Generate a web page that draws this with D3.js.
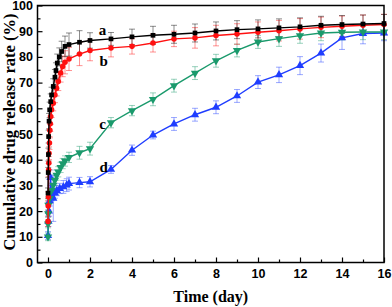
<!DOCTYPE html>
<html>
<head>
<meta charset="utf-8">
<script src="https://cdn.jsdelivr.net/npm/d3@7"></script>
<style>
  body { margin: 0; background: #fff; }
  .tick text { font-family: "Liberation Sans", Arial, sans-serif; font-weight: bold; font-size: 12.5px; }
  .ttl { font-family: "Liberation Serif", "Times New Roman", serif; font-weight: bold; }
</style>
</head>
<body>
<svg id="chart" width="392" height="307"></svg>
<script>
// release data
var timeA = [0, 0.01, 0.02, 0.03, 0.05, 0.08, 0.13, 0.17, 0.25, 0.33, 0.38, 0.44, 0.54, 0.65, 0.81, 1, 1.5, 2, 3, 4, 5, 6, 7, 8, 9, 10, 11, 12, 13, 14, 15, 16];
var valA  = [27, 35, 42, 49, 55, 59.4, 62.6, 65.2, 68.5, 72.1, 74.7, 77.6, 80, 82.1, 84.1, 84.8, 85.7, 86.4, 87, 87.8, 88.4, 88.8, 89.3, 90.1, 90.6, 90.9, 91.3, 91.7, 92.3, 92.6, 92.8, 93];
var errA  = [2, 2, 2.5, 2.5, 3, 3, 3, 3, 3, 3, 3, 3.5, 3.5, 4, 4, 4.5, 4.5, 3, 2.5, 3, 3.5, 3.5, 3.5, 3.5, 3.5, 3.5, 3.5, 3.5, 3.5, 3.5, 3.5, 3.5];

var timeB = [0, 0.01, 0.02, 0.03, 0.04, 0.05, 0.07, 0.09, 0.11, 0.13, 0.17, 0.25, 0.33, 0.41, 0.49, 0.6, 0.7, 0.81, 1, 1.5, 2, 3, 4, 5, 6, 7, 8, 9, 10, 11, 12, 13, 14, 15, 16];
var valB  = [16, 22, 25.5, 36, 38.7, 42.5, 46.5, 51.5, 54, 56.8, 59.4, 62, 65.2, 67.8, 70.4, 73.7, 76.3, 77.9, 79.2, 81.1, 82.5, 83.5, 84.1, 85.4, 87, 87.4, 88.3, 88.9, 89.6, 90.2, 90.9, 91.5, 91.9, 92.3, 92.6];
var errB  = [2, 2, 2, 2.5, 2.5, 2.5, 2.5, 3, 3, 3, 3, 3, 3, 3, 3.5, 3.5, 4, 4.5, 4.5, 4.5, 4, 3.5, 3, 3.5, 3, 4, 4, 4, 4, 4, 4, 4, 4, 4, 4];

var timeC = [0, 0.005, 0.01, 0.02, 0.08, 0.17, 0.25, 0.33, 0.41, 0.49, 0.6, 0.7, 0.81, 1, 1.5, 2, 3, 4, 5, 6, 7, 8, 9, 10, 11, 12, 13, 14, 15, 16];
var valC  = [10, 15, 19, 22.3, 24.9, 28.1, 30.1, 32, 34, 35.3, 37, 38.5, 39.5, 40.9, 42.7, 44.3, 54.4, 59.1, 63.5, 68.8, 73.7, 78.5, 82.5, 85.8, 87.1, 88.3, 89.3, 89.6, 89.7, 89.7];
var errC  = [1.5, 1.5, 1.5, 2, 2, 2, 2, 2, 2, 2, 2, 2, 2, 2, 2.5, 2.5, 2, 2, 2.5, 2.5, 2.5, 2.5, 2.5, 2.5, 3, 3, 3, 3, 3, 3];

var timeD = [0, 0.02, 0.04, 0.08, 0.12, 0.17, 0.25, 0.33, 0.42, 0.56, 0.73, 0.89, 1, 1.5, 2, 3, 4, 5, 6, 7, 8, 9, 10, 11, 12, 13, 14, 15, 16];
var valD  = [10.5, 16, 20, 24, 33, 26, 25, 27, 28, 28.8, 29.4, 30.1, 30.7, 31.1, 31.4, 36.2, 43.7, 49.6, 53.9, 57.5, 60.4, 64.8, 70.2, 73, 76.6, 81.5, 87.4, 89.1, 89.3];
var errD  = [1.5, 2, 2, 2, 3, 2, 9, 2, 2, 2, 2.5, 2.5, 2.5, 2, 2, 1.5, 2, 1.5, 2.5, 2.5, 2.5, 2.5, 2.5, 3, 3.5, 3.5, 4.5, 4, 3];

var xTicks = [0, 2, 4, 6, 8, 10, 12, 14, 16];
var yTicks = [0, 10, 20, 30, 40, 50, 60, 70, 80, 90, 100];

var seriesNames = ["d", "c", "b", "a"];
var seriesColors = {a: "#000000", b: "#ff1010", c: "#1a9a6c", d: "#1f3dff"};
var seriesShapes = {a: d3.symbolSquare, b: d3.symbolCircle, c: "down", d: d3.symbolTriangle};
// where the a/b/c/d labels sit, in data units
var labelPos = {a: [2.6, 88.6], b: [2.65, 76.4], c: [2.6, 52], d: [2.65, 35.3]};

var series = {
    a: timeA.map(function(t, i){ return {t: t, v: valA[i], e: errA[i]}; }),
    b: timeB.map(function(t, i){ return {t: t, v: valB[i], e: errB[i]}; }),
    c: timeC.map(function(t, i){ return {t: t, v: valC[i], e: errC[i]}; }),
    d: timeD.map(function(t, i){ return {t: t, v: valD[i], e: errD[i]}; })
};

var svg = d3.select("#chart");
var pLeft = 37.5, pRight = 384, pTop = 5.5, pBottom = 262.5;

var x = d3.scaleLinear().domain([-0.5, 16]).range([pLeft, pRight]);
var y = d3.scaleLinear().domain([0, 100]).range([pBottom, pTop]);

// error bars first, faded
seriesNames.forEach(function(k){
    var col = seriesColors[k];
    var g = svg.append("g").attr("stroke", col).attr("stroke-opacity", 0.45).attr("stroke-width", 1);
    g.selectAll("line.eb").data(series[k]).enter().append("line")
        .attr("x1", function(d){ return x(d.t); }).attr("x2", function(d){ return x(d.t); })
        .attr("y1", function(d){ return y(d.v - d.e); }).attr("y2", function(d){ return y(d.v + d.e); });
    g.selectAll("line.cu").data(series[k]).enter().append("line")
        .attr("x1", function(d){ return x(d.t) - 3; }).attr("x2", function(d){ return x(d.t) + 3; })
        .attr("y1", function(d){ return y(d.v + d.e); }).attr("y2", function(d){ return y(d.v + d.e); });
    g.selectAll("line.cl").data(series[k]).enter().append("line")
        .attr("x1", function(d){ return x(d.t) - 3; }).attr("x2", function(d){ return x(d.t) + 3; })
        .attr("y1", function(d){ return y(d.v - d.e); }).attr("y2", function(d){ return y(d.v - d.e); });
});

var line = d3.line().x(function(d){ return x(d.t); }).y(function(d){ return y(d.v); });

seriesNames.forEach(function(k){
    var col = seriesColors[k];
    svg.append("path").datum(series[k])
        .attr("d", line)
        .attr("fill", "none")
        .attr("stroke", col)
        .attr("stroke-width", 1.4);

    var shape = seriesShapes[k];
    var sym = shape === "down" ? d3.symbol(d3.symbolTriangle).size(30) : d3.symbol(shape).size(shape === d3.symbolCircle ? 24 : (shape === d3.symbolSquare ? 22 : 30));
    svg.append("g").selectAll("path").data(series[k]).enter().append("path")
        .attr("d", sym)
        .attr("fill", col)
        .attr("transform", function(d){
            return "translate(" + x(d.t) + "," + y(d.v) + ")" + (shape === "down" ? " rotate(180)" : "");
        });
});

// curve labels
Object.keys(labelPos).forEach(function(k){
    svg.append("text").attr("class", "ttl")
        .attr("x", x(labelPos[k][0])).attr("y", y(labelPos[k][1]))
        .attr("text-anchor", "middle")
        .attr("font-size", 15)
        .text(k);
});

// axes, ticks pointing inward
svg.append("g").attr("transform", "translate(0," + pBottom + ")")
    .call(d3.axisBottom(x).tickValues(xTicks).tickSize(-5).tickPadding(7).tickFormat(d3.format("d")));
svg.append("g").attr("transform", "translate(0," + pBottom + ")")
    .call(d3.axisBottom(x).tickValues(d3.range(1, 16, 2)).tickSize(-3).tickFormat(""));
svg.append("g").attr("transform", "translate(" + pLeft + ",0)")
    .call(d3.axisLeft(y).tickValues(yTicks).tickSize(-5).tickPadding(4.5));
svg.append("g").attr("transform", "translate(" + pLeft + ",0)")
    .call(d3.axisLeft(y).tickValues(d3.range(5, 100, 10)).tickSize(-3).tickFormat(""));

svg.selectAll(".domain").remove();
svg.selectAll(".tick line").attr("stroke", "#000").attr("stroke-width", 1.2);
svg.selectAll(".tick text").attr("fill", "#000");

// frame
svg.append("rect")
    .attr("x", pLeft).attr("y", pTop)
    .attr("width", pRight - pLeft).attr("height", pBottom - pTop)
    .attr("fill", "none").attr("stroke", "#000").attr("stroke-width", 1.5);

svg.append("text").attr("class", "ttl")
    .attr("x", (pLeft + pRight) / 2).attr("y", 301.5)
    .attr("text-anchor", "middle").attr("font-size", 16)
    .text("Time (day)");

svg.append("text").attr("class", "ttl")
    .attr("transform", "translate(15,132) rotate(-90)")
    .attr("text-anchor", "middle").attr("font-size", 16.5)
    .text("Cumulative drug release rate (%)");
</script>
</body>
</html>
